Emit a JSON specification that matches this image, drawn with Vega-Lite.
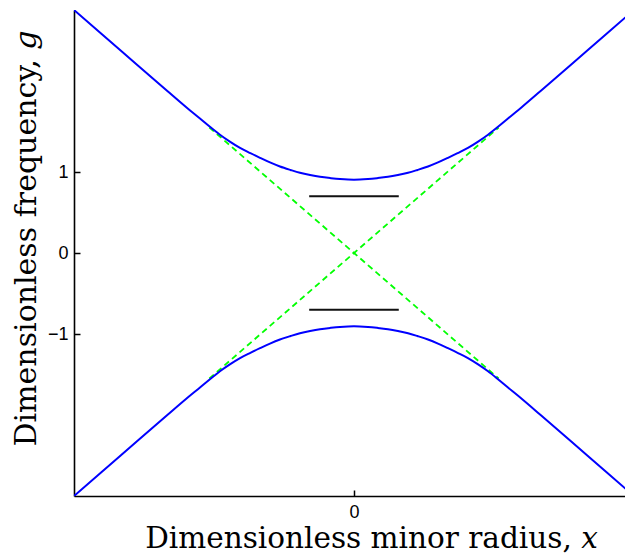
{
  "$schema": "https://vega.github.io/schema/vega-lite/v6.json",
  "width": 551,
  "height": 486,
  "autosize": {"type": "none"},
  "padding": {"left": 74, "top": 10, "right": 0, "bottom": 57},
  "background": "white",
  "config": {"view": {"stroke": null}},
  "datasets": {
    "branches": [
      {"branch": "upper", "x": -3.0, "g": 3.0},
      {"branch": "upper", "x": -2.5, "g": 2.5},
      {"branch": "upper", "x": -2.0, "g": 2.0},
      {"branch": "upper", "x": -1.8, "g": 1.802},
      {"branch": "upper", "x": -1.65, "g": 1.66},
      {"branch": "upper", "x": -1.54, "g": 1.555},
      {"branch": "upper", "x": -1.436, "g": 1.46},
      {"branch": "upper", "x": -1.33, "g": 1.375},
      {"branch": "upper", "x": -1.221, "g": 1.297},
      {"branch": "upper", "x": -1.11, "g": 1.232},
      {"branch": "upper", "x": -1.007, "g": 1.175},
      {"branch": "upper", "x": -0.9, "g": 1.118},
      {"branch": "upper", "x": -0.793, "g": 1.068},
      {"branch": "upper", "x": -0.68, "g": 1.025},
      {"branch": "upper", "x": -0.579, "g": 0.99},
      {"branch": "upper", "x": -0.47, "g": 0.962},
      {"branch": "upper", "x": -0.364, "g": 0.94},
      {"branch": "upper", "x": -0.25, "g": 0.924},
      {"branch": "upper", "x": -0.15, "g": 0.913},
      {"branch": "upper", "x": 0.0, "g": 0.905},
      {"branch": "upper", "x": 0.15, "g": 0.913},
      {"branch": "upper", "x": 0.25, "g": 0.924},
      {"branch": "upper", "x": 0.364, "g": 0.94},
      {"branch": "upper", "x": 0.47, "g": 0.962},
      {"branch": "upper", "x": 0.579, "g": 0.99},
      {"branch": "upper", "x": 0.68, "g": 1.025},
      {"branch": "upper", "x": 0.793, "g": 1.068},
      {"branch": "upper", "x": 0.9, "g": 1.118},
      {"branch": "upper", "x": 1.007, "g": 1.175},
      {"branch": "upper", "x": 1.11, "g": 1.232},
      {"branch": "upper", "x": 1.221, "g": 1.297},
      {"branch": "upper", "x": 1.33, "g": 1.375},
      {"branch": "upper", "x": 1.436, "g": 1.46},
      {"branch": "upper", "x": 1.54, "g": 1.555},
      {"branch": "upper", "x": 1.65, "g": 1.66},
      {"branch": "upper", "x": 1.8, "g": 1.802},
      {"branch": "upper", "x": 2.0, "g": 2.0},
      {"branch": "upper", "x": 2.5, "g": 2.5},
      {"branch": "upper", "x": 3.0, "g": 3.0},
      {"branch": "lower", "x": -3.0, "g": -3.0},
      {"branch": "lower", "x": -2.5, "g": -2.5},
      {"branch": "lower", "x": -2.0, "g": -2.0},
      {"branch": "lower", "x": -1.8, "g": -1.802},
      {"branch": "lower", "x": -1.65, "g": -1.66},
      {"branch": "lower", "x": -1.54, "g": -1.555},
      {"branch": "lower", "x": -1.436, "g": -1.46},
      {"branch": "lower", "x": -1.33, "g": -1.375},
      {"branch": "lower", "x": -1.221, "g": -1.297},
      {"branch": "lower", "x": -1.11, "g": -1.232},
      {"branch": "lower", "x": -1.007, "g": -1.175},
      {"branch": "lower", "x": -0.9, "g": -1.118},
      {"branch": "lower", "x": -0.793, "g": -1.068},
      {"branch": "lower", "x": -0.68, "g": -1.025},
      {"branch": "lower", "x": -0.579, "g": -0.99},
      {"branch": "lower", "x": -0.47, "g": -0.962},
      {"branch": "lower", "x": -0.364, "g": -0.94},
      {"branch": "lower", "x": -0.25, "g": -0.924},
      {"branch": "lower", "x": -0.15, "g": -0.913},
      {"branch": "lower", "x": 0.0, "g": -0.905},
      {"branch": "lower", "x": 0.15, "g": -0.913},
      {"branch": "lower", "x": 0.25, "g": -0.924},
      {"branch": "lower", "x": 0.364, "g": -0.94},
      {"branch": "lower", "x": 0.47, "g": -0.962},
      {"branch": "lower", "x": 0.579, "g": -0.99},
      {"branch": "lower", "x": 0.68, "g": -1.025},
      {"branch": "lower", "x": 0.793, "g": -1.068},
      {"branch": "lower", "x": 0.9, "g": -1.118},
      {"branch": "lower", "x": 1.007, "g": -1.175},
      {"branch": "lower", "x": 1.11, "g": -1.232},
      {"branch": "lower", "x": 1.221, "g": -1.297},
      {"branch": "lower", "x": 1.33, "g": -1.375},
      {"branch": "lower", "x": 1.436, "g": -1.46},
      {"branch": "lower", "x": 1.54, "g": -1.555},
      {"branch": "lower", "x": 1.65, "g": -1.66},
      {"branch": "lower", "x": 1.8, "g": -1.802},
      {"branch": "lower", "x": 2.0, "g": -2.0},
      {"branch": "lower", "x": 2.5, "g": -2.5},
      {"branch": "lower", "x": 3.0, "g": -3.0}
    ],
    "asymptotes": [
      {"line": "rising", "x": -1.55, "g": -1.55},
      {"line": "rising", "x": 1.55, "g": 1.55},
      {"line": "falling", "x": -1.55, "g": 1.55},
      {"line": "falling", "x": 1.55, "g": -1.55}
    ],
    "levels": [
      {"level": "upper", "x": -0.48, "g": 0.7},
      {"level": "upper", "x": 0.48, "g": 0.7},
      {"level": "lower", "x": -0.48, "g": -0.7},
      {"level": "lower", "x": 0.48, "g": -0.7}
    ]
  },
  "encoding": {
    "x": {
      "field": "x",
      "type": "quantitative",
      "scale": {"domain": [-3, 2.904], "nice": false, "zero": false},
      "axis": {
        "values": [0],
        "grid": false,
        "domainColor": "black",
        "domainWidth": 1.6,
        "ticks": true,
        "tickColor": "black",
        "tickWidth": 1.5,
        "tickSize": -6,
        "labelFont": "Liberation Sans",
        "labelFontSize": 18,
        "labelColor": "black",
        "labelPadding": 13,
        "title": "Dimensionless minor radius, 𝑥",
        "titleFont": "DejaVu Serif",
        "titleFontSize": 29.5,
        "titleFontWeight": "normal",
        "titleColor": "black",
        "titleAngle": 0,
        "titleAlign": "center",
        "titleBaseline": "alphabetic",
        "titleX": 297,
        "titleY": 51
      }
    },
    "y": {
      "field": "g",
      "type": "quantitative",
      "scale": {"domain": [-3, 3], "nice": false, "zero": false},
      "axis": {
        "values": [-1, 0, 1],
        "grid": false,
        "domainColor": "black",
        "domainWidth": 1.6,
        "ticks": true,
        "tickColor": "black",
        "tickWidth": 1.5,
        "tickSize": -6,
        "labelFont": "Liberation Sans",
        "labelFontSize": 18,
        "labelColor": "black",
        "labelPadding": 12,
        "title": "Dimensionless frequency, 𝑔",
        "titleFont": "DejaVu Serif",
        "titleFontSize": 30,
        "titleFontWeight": "normal",
        "titleColor": "black",
        "titleAngle": -90,
        "titleAlign": "center",
        "titleBaseline": "alphabetic",
        "titleX": -39,
        "titleY": 228
      }
    }
  },
  "layer": [
    {
      "data": {"name": "asymptotes"},
      "mark": {"type": "line", "color": "#00ff00", "strokeWidth": 1.8, "strokeDash": [6, 4]},
      "encoding": {"detail": {"field": "line"}}
    },
    {
      "data": {"name": "levels"},
      "mark": {"type": "line", "color": "#111111", "strokeWidth": 2},
      "encoding": {"detail": {"field": "level"}}
    },
    {
      "data": {"name": "branches"},
      "mark": {"type": "line", "color": "#0000ff", "strokeWidth": 2, "interpolate": "catmull-rom", "clip": true},
      "encoding": {"detail": {"field": "branch"}}
    },
    {
      "data": {"values": [{}]},
      "mark": {"type": "rule", "color": "black", "strokeWidth": 1.6},
      "encoding": {"y": {"datum": 3, "type": "quantitative"}, "x": {"value": 0}, "x2": {"value": 551}}
    }
  ]
}
